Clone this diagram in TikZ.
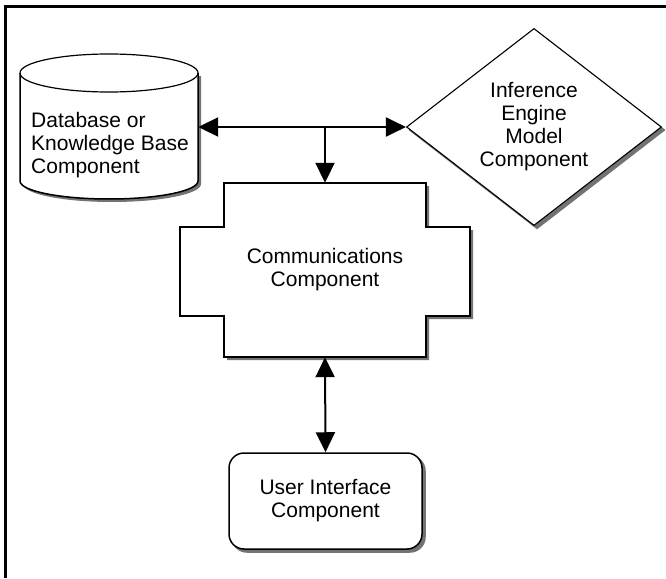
\documentclass[tikz,border=0pt]{standalone}
\usepackage{fontspec}
\setmainfont{Liberation Sans}
\usetikzlibrary{shapes.geometric,arrows.meta}
\colorlet{shadowgray}{black!55}
\tikzset{
  lbl/.style={font=\fontsize{21}{23}\selectfont, align=center, inner sep=0pt},
  outline/.style={draw=black, line width=1.5pt, fill=white},
  conn/.style={line width=2pt, draw=black},
  tip/.style={-{Triangle[length=20pt,width=19pt]}},
  tips/.style={{Triangle[length=20pt,width=19pt]}-{Triangle[length=20pt,width=19pt]}},
  frame/.style={line width=3pt, draw=black},
  diam/.style={diamond, draw=black, line width=1.1pt, fill=white, minimum width=255pt, minimum height=176pt, inner sep=0pt,
     preaction={fill=shadowgray, draw=shadowgray, line width=1.5pt, transform canvas={shift={(3pt,-3pt)}}}},
  uibox/.style={rectangle, rounded corners=15pt, draw=black, line width=1.5pt, fill=white, minimum width=193pt, minimum height=96pt,
     preaction={fill=shadowgray, draw=shadowgray, transform canvas={shift={(3pt,-3pt)}}}},
  ghost/.style={draw=none, inner sep=0pt}
}
\begin{document}
\begin{tikzpicture}[x=1pt,y=-1pt]
\useasboundingbox (0,0) rectangle (666,578);
% frame
\draw[frame] (5.5,578) -- (5.5,7) -- (666,7);

% database cylinder
\fill[shadowgray] (23,76) -- (23,184) arc[start angle=180,end angle=360,x radius=89pt,y radius=18pt] -- (201,76) -- cycle;
\path[fill=white] (20,73) -- (20,181) arc[start angle=180,end angle=360,x radius=89pt,y radius=18pt] -- (198,73) arc[start angle=0,end angle=180,x radius=89pt,y radius=19pt] -- cycle;
\draw[line width=1.5pt] (20,73) -- (20,181) arc[start angle=180,end angle=360,x radius=89pt,y radius=18pt] -- (198,73);
\draw[line width=1.2pt] (109,73) ellipse[x radius=89pt,y radius=19pt];
\node[ghost, minimum width=178pt, minimum height=146pt] (db) at (109,127) {};
\node[lbl, align=left] (dbtext) at (110,145) {Database or\\Knowledge Base\\Component};

% inference engine diamond
\node[diam, lbl] (ie) at (534,127) {Inference\\Engine\\Model\\Component};

% communications component (cross shape)
\fill[shadowgray] (227,186) -- (429,186) -- (429,230) -- (473,230) -- (473,319) -- (429,319) -- (429,360) -- (227,360) -- cycle;
\draw[outline] (224,183) -- (426,183) -- (426,227) -- (470,227) -- (470,316) -- (426,316) -- (426,357) -- (224,357) -- (224,316) -- (180,316) -- (180,227) -- (224,227) -- cycle;
\node[ghost, minimum width=290pt, minimum height=174pt, lbl] (comm) at (325,270) {Communications\\Component};

% user interface
\node[uibox, lbl] (ui) at (325.5,501) {User Interface\\Component};

% connectors
\coordinate (j) at (db.east -| comm.north);
\draw[conn, tips] (db.east) -- (ie.west);
\draw[conn, tip] (j) -- (comm.north);
\draw[conn, tips] (comm.south) -- (ui.north);
\end{tikzpicture}
\end{document}
